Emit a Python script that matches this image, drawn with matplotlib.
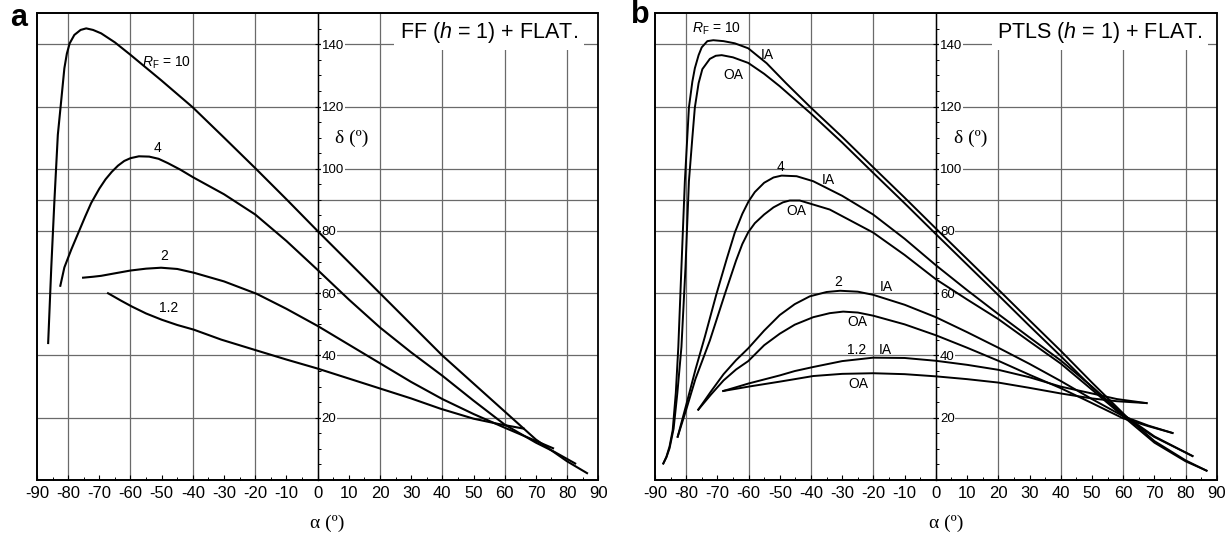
import matplotlib
matplotlib.use("Agg")
import matplotlib.pyplot as plt
from matplotlib.patches import Rectangle
from matplotlib.ticker import MultipleLocator, FixedLocator

plt.rcParams['font.family'] = ['Liberation Sans', 'DejaVu Sans']
plt.rcParams['mathtext.fontset'] = 'custom'
plt.rcParams['mathtext.rm'] = 'Liberation Sans'
plt.rcParams['mathtext.it'] = 'Liberation Sans:italic'
plt.rcParams['axes.unicode_minus'] = False

# ---------------- panel a : FF (h = 1) + FLAT. ----------------
a_r10_x = [-86.4, -85.4, -84.4, -83.3, -82.4, -81.2, -80.4, -79.5, -78.0, -76.0, -74.2, -72.0, -69.4, -65.0,
           -60.0, -50.0, -40.0, -30.0, -20.0, -10.0, 0.0, 10.0, 20.0, 30.0, 40.0, 50.0, 60.0, 70.0, 80.0, 86.4]
a_r10_y = [44.0, 68.3, 89.6, 110.9, 120.0, 132.3, 137.0, 140.3, 143.0, 144.6, 145.1, 144.6, 143.5, 140.6,
           136.6, 128.3, 119.7, 110.0, 100.2, 90.2, 80.0, 70.0, 60.0, 50.0, 40.0, 31.0, 22.0, 13.0, 6.0, 2.2]
a_r4_x = [-82.5, -81.2, -79.0, -76.9, -74.5, -72.6, -70.0, -68.0, -66.0, -64.0, -62.0, -60.0, -57.3, -54.0,
          -51.0, -48.0, -44.0, -40.0, -30.0, -20.0, -10.0, 0.0, 10.0, 20.0, 30.0, 40.0, 50.0, 60.0, 70.0,
          76.0, 82.6]
a_r4_y = [62.4, 68.3, 74.0, 79.0, 84.7, 89.0, 93.6, 96.6, 99.0, 101.0, 102.5, 103.4, 104.0, 103.9,
          103.2, 101.8, 99.7, 97.3, 91.8, 85.3, 76.8, 67.5, 58.0, 49.0, 41.0, 33.5, 25.5, 17.8, 12.0,
          9.0, 5.3]
a_r2_x = [-75.2, -72.0, -69.4, -65.0, -60.0, -55.0, -50.2, -45.0, -39.7, -30.0, -19.5, -10.0, 0.0, 10.0,
          20.0, 30.0, 40.0, 50.0, 60.0, 68.0, 75.5]
a_r2_y = [65.0, 65.3, 65.6, 66.4, 67.3, 67.9, 68.2, 67.8, 66.6, 63.8, 59.8, 55.0, 49.5, 43.5,
          37.5, 31.5, 26.0, 21.2, 16.8, 13.4, 10.2]
a_r12_x = [-67.2, -63.0, -59.5, -55.0, -50.0, -45.0, -39.7, -30.9, -19.5, -10.0, 0.0, 10.0, 20.0, 30.0,
           39.4, 50.0, 58.0, 66.1]
a_r12_y = [60.0, 57.6, 55.7, 53.5, 51.5, 49.8, 48.3, 45.1, 41.6, 38.7, 35.8, 32.6, 29.4, 26.2,
           22.9, 19.7, 18.0, 16.5]

# ---------------- panel b : PTLS (h = 1) + FLAT. ----------------
b_r10_ia_x = [-87.3, -86.3, -85.3, -84.3, -83.3, -82.5, -81.5, -80.4, -79.1, -78.0, -77.2, -76.0, -75.0, -73.2,
              -71.3, -68.0, -64.4, -60.1, -54.2, -48.0, -40.1, -30.0, -20.1, -10.0, 0.0, 10.0, 20.0, 30.0,
              40.0, 50.0, 61.0, 70.0, 80.0, 86.7]
b_r10_ia_y = [5.3, 7.5, 10.8, 16.0, 28.0, 42.7, 68.3, 96.0, 119.7, 128.0, 132.3, 136.5, 139.0, 141.0,
              141.3, 141.0, 140.3, 138.7, 133.9, 127.5, 119.7, 110.2, 100.5, 90.7, 80.8, 71.0, 61.2, 51.3,
              41.5, 31.3, 20.4, 12.5, 6.3, 3.0]
b_r10_oa_x = [-87.3, -86.3, -85.3, -84.0, -82.8, -81.5, -80.2, -79.1, -78.0, -77.2, -76.0, -74.8, -72.4, -70.5,
              -68.6, -65.0, -60.1, -55.0, -50.0, -40.1, -30.0, -20.1, -10.0, 0.0, 10.0, 20.0, 30.0, 40.0,
              50.0, 61.0, 70.0, 80.0, 86.7]
b_r10_oa_y = [5.3, 7.3, 10.2, 16.5, 28.0, 42.7, 68.3, 96.0, 110.0, 119.7, 127.5, 132.0, 135.3, 136.3,
              136.5, 135.8, 134.0, 130.5, 126.5, 117.8, 108.4, 98.7, 88.9, 79.0, 69.2, 59.4, 49.5, 39.8,
              29.8, 19.6, 12.0, 6.0, 3.0]
b_r4_ia_x = [-82.7, -80.0, -77.0, -74.0, -70.3, -67.0, -64.4, -62.0, -60.0, -58.0, -55.0, -52.0, -49.4, -44.6,
             -39.3, -30.0, -20.1, -10.0, 0.0, 10.0, 20.0, 30.0, 40.0, 50.0, 60.0, 70.0, 82.2]
b_r4_ia_y = [13.9, 24.0, 35.5, 46.0, 59.7, 71.0, 79.5, 85.5, 89.5, 92.5, 95.5, 97.2, 97.8, 97.6,
             96.0, 91.3, 85.3, 77.5, 69.0, 61.0, 53.3, 45.8, 38.4, 30.0, 21.0, 14.0, 7.7]
b_r4_oa_x = [-82.7, -80.0, -77.0, -72.4, -67.6, -64.0, -62.0, -60.1, -58.0, -55.0, -52.0, -49.0, -46.8, -43.6,
             -34.0, -20.1, -10.0, 0.0, 10.0, 20.0, 30.0, 40.0, 50.0, 60.0, 70.0, 82.2]
b_r4_oa_y = [13.9, 22.5, 32.5, 44.8, 59.7, 70.5, 75.8, 79.6, 82.5, 85.3, 87.6, 89.2, 89.8, 89.8,
             86.9, 79.5, 72.3, 64.5, 58.0, 51.7, 44.5, 37.4, 29.0, 20.5, 13.8, 7.7]
b_r2_ia_x = [-76.1, -72.0, -68.0, -64.0, -60.1, -55.0, -50.0, -45.2, -40.4, -35.0, -30.7, -25.0, -20.1, -10.0,
             0.0, 10.0, 20.0, 30.0, 40.0, 50.0, 60.0, 68.0, 75.8]
b_r2_ia_y = [22.6, 28.5, 34.0, 38.5, 42.3, 48.0, 53.0, 56.5, 59.0, 60.4, 60.8, 60.5, 59.5, 56.3,
             52.3, 47.5, 42.5, 37.3, 31.8, 26.0, 20.5, 17.5, 15.1]
b_r2_oa_x = [-76.1, -72.0, -68.0, -64.0, -60.1, -55.0, -50.0, -45.2, -39.3, -34.0, -29.7, -25.0, -20.1, -10.0,
             0.0, 10.0, 20.0, 30.0, 40.0, 50.0, 60.0, 68.0, 75.8]
b_r2_oa_y = [22.6, 27.5, 32.0, 35.5, 38.2, 43.3, 47.0, 49.9, 52.3, 53.6, 54.1, 53.8, 52.8, 50.0,
             46.5, 42.5, 38.3, 33.8, 29.5, 24.7, 19.8, 17.3, 15.1]
b_r12_x = [-68.1, -64.0, -60.0, -55.0, -50.0, -45.2, -39.3, -30.0, -20.1, -10.0, 0.0, 10.0, 20.0, 30.0,
           40.0, 50.0, 58.0, 67.5]
b_r12_ia_y = [28.6, 29.8, 31.0, 32.3, 33.6, 35.0, 36.3, 38.2, 39.3, 39.2, 38.3, 37.0, 35.4, 33.0,
              30.0, 27.8, 26.0, 24.7]
b_r12_oa_y = [28.6, 29.3, 30.0, 30.8, 31.6, 32.4, 33.4, 34.1, 34.3, 34.0, 33.3, 32.4, 31.3, 29.6,
              27.8, 26.2, 25.3, 24.7]

# grid and ticks
grid_x = [-80, -60, -40, -20, 0, 20, 40, 60, 80]
grid_y = [20, 40, 60, 80, 90, 100, 120, 140]
ytick_vals = [20, 40, 60, 80, 100, 120, 140]

# curve labels (text, x, y)
a_labels = [(r"$R_{\mathrm{F}}$ = 10", -48.6, 134.0), ("4", -51.3, 106.6), ("2", -49.3, 72.0), ("1.2", -47.7, 55.4)]
b_labels = [(r"$R_{\mathrm{F}}$ = 10", -70.2, 145.1), ("IA", -53.9, 136.5), ("OA", -64.9, 130.1),
            ("4", -49.7, 100.6), ("IA", -34.5, 96.5), ("OA", -44.6, 86.4),
            ("2", -31.3, 63.5), ("IA", -16.0, 61.9), ("OA", -25.1, 50.7),
            ("1.2", -25.4, 41.8), ("IA", -16.3, 41.8), ("OA", -24.7, 30.9)]


def setup(ax, title, title_x):
    ax.set_xlim(-90, 90)
    ax.set_ylim(0, 150)
    ax.vlines(grid_x, 0, 150, colors='#6a6a6a', linewidth=0.9, zorder=0.5)
    ax.hlines(grid_y, -90, 90, colors='#6a6a6a', linewidth=0.9, zorder=0.5)

    # y axis through alpha = 0, labels on its right
    ax.spines['right'].set_position(('data', 0))
    ax.spines['right'].set_linewidth(1.0)
    ax.yaxis.tick_right()
    ax.yaxis.set_major_locator(FixedLocator(ytick_vals))
    ax.yaxis.set_minor_locator(MultipleLocator(5))
    ax.tick_params(axis='y', which='major', direction='inout', length=4, width=0.8, labelsize=9.5, pad=1)
    ax.tick_params(axis='y', which='minor', direction='out', length=2.5, width=0.7)
    for t in ax.yaxis.get_major_ticks():
        t.label2.set_bbox(dict(facecolor='white', edgecolor='none', pad=0.5))

    ax.xaxis.tick_bottom()
    ax.xaxis.set_major_locator(MultipleLocator(10))
    ax.xaxis.set_minor_locator(MultipleLocator(5))
    ax.tick_params(axis='x', which='major', direction='in', length=3.5, width=0.8, labelsize=12, pad=4)
    ax.tick_params(axis='x', which='minor', direction='in', length=2.5, width=0.7)

    for s in ['left', 'top', 'bottom']:
        ax.spines[s].set_linewidth(1.1)
    ax.add_patch(Rectangle((0, 0), 1, 1, transform=ax.transAxes, fill=False, linewidth=1.3,
                           edgecolor='black', zorder=5, clip_on=False))

    ax.text(title_x, 0.959, title, transform=ax.transAxes, ha='right', va='center', fontsize=15.5,
            zorder=4, bbox=dict(facecolor='white', edgecolor='none', pad=4))
    ax.text(11.0, 109.8, u"δ (º)", fontsize=14, family='Liberation Serif', ha='center', va='center')
    ax.text(3.2, -0.092, u"α (º)", transform=ax.get_xaxis_transform(), fontsize=14,
            family='Liberation Serif', ha='center', va='center')


fig = plt.figure(figsize=(12.31, 5.36), dpi=100)

# -----------------------   panel a   -----------------------------
ax1 = fig.add_axes([0.030, 0.1045, 0.456, 0.871])
setup(ax1, r"FF ($h$ = 1) + FLAT.", 0.964)
for xs, ys in [(a_r10_x, a_r10_y), (a_r4_x, a_r4_y), (a_r2_x, a_r2_y), (a_r12_x, a_r12_y)]:
    ax1.plot(xs, ys, color='black', linewidth=1.5, zorder=3)
for txt, x, y in a_labels:
    ax1.text(x, y, txt, fontsize=10, ha='center', va='center', zorder=4)

# -----------------------   panel b   -----------------------------
ax2 = fig.add_axes([0.532, 0.1045, 0.4565, 0.871])
setup(ax2, r"PTLS ($h$ = 1) + FLAT.", 0.975)
for xs, ys in [(b_r10_ia_x, b_r10_ia_y), (b_r10_oa_x, b_r10_oa_y), (b_r4_ia_x, b_r4_ia_y),
               (b_r4_oa_x, b_r4_oa_y), (b_r2_ia_x, b_r2_ia_y), (b_r2_oa_x, b_r2_oa_y),
               (b_r12_x, b_r12_ia_y), (b_r12_x, b_r12_oa_y)]:
    ax2.plot(xs, ys, color='black', linewidth=1.4, zorder=3)
for txt, x, y in b_labels:
    ax2.text(x, y, txt, fontsize=10, ha='center', va='center', zorder=4)

fig.text(0.0154, 0.966, 'a', fontsize=22, fontweight='bold', ha='center', va='center')
fig.text(0.520, 0.972, 'b', fontsize=22, fontweight='bold', ha='center', va='center')

plt.savefig("out.png", dpi=100)
